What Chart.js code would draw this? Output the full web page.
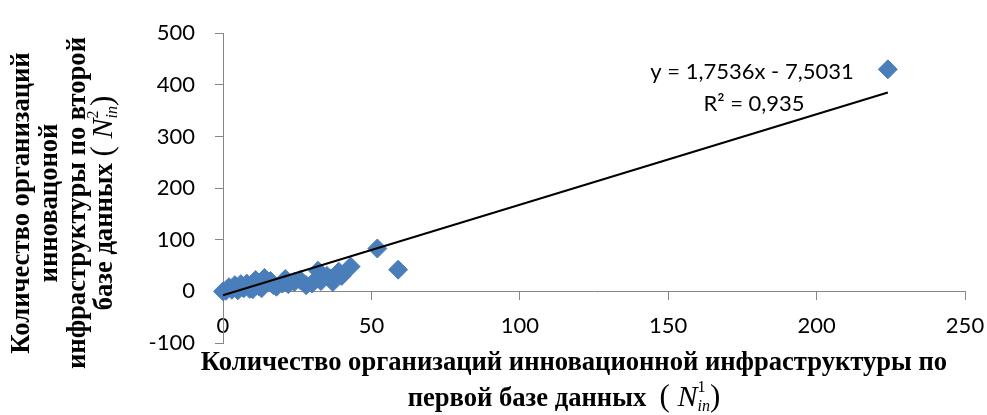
<!DOCTYPE html>
<html lang="ru">
<head>
<meta charset="utf-8">
<title>Количество организаций инновационной инфраструктуры</title>
<script src="https://cdn.jsdelivr.net/npm/chart.js@4/dist/chart.umd.min.js"></script>
<style>
    html, body { margin: 0; padding: 0; background: #ffffff; }
    #wrap { position: relative; width: 987px; height: 415px; }
</style>
</head>
<body>
<div id="wrap"><canvas id="chart"></canvas></div>
<script>
// values
const firstBase = [0, 1, 2, 3, 4, 5, 6, 7, 8, 9, 10, 11, 12, 13, 14, 15, 16, 17, 18, 20,
    21, 22, 24, 26, 28, 30, 32, 33, 35, 36, 37, 39, 40, 43, 52, 59, 224];
const secondBase = [0, 1, 8, 3, 12, 2, 14, 6, 15, 5, 4, 22, 10, 6, 26, 18, 20, 12, 9, 15,
    24, 14, 18, 22, 12, 15, 40, 20, 30, 25, 18, 38, 30, 48, 83, 42, 430];
const trendX = [0, 224];
const trendY = [-7.5, 385.3];
const xTicks = [0, 50, 100, 150, 200, 250];
const yTicks = [-100, 0, 100, 200, 300, 400, 500];
const equationLines = ["y = 1,7536x - 7,5031", "R² = 0,935"];

const AXIS_GREY = "#868686";
const MARKER_BLUE = "#4A7EBB";
const TICK_FONT = { family: "Lato", size: 22 };

const points = firstBase.map((x, i) => ({ x, y: secondBase[i] }));
const trend = trendX.map((x, i) => ({ x, y: trendY[i] }));

function runsWidth(ctx, runs) {
    let w = 0;
    let last = 0;
    for (const r of runs) {
        ctx.font = r.f;
        const rw = ctx.measureText(r.t).width;
        if (r.stack) {
            w += Math.max(0, rw - last);
            last = Math.max(last, rw);
        } else {
            w += rw;
            last = rw;
        }
    }
    return w;
}

// draws a line made of several font runs, centred on cx
function drawRuns(ctx, runs, cx, y) {
    let x = cx - runsWidth(ctx, runs) / 2;
    let start = x;
    let last = 0;
    for (const r of runs) {
        ctx.font = r.f;
        const rw = ctx.measureText(r.t).width;
        if (r.stack) {
            ctx.fillText(r.t, start, y + (r.dy || 0));
            x = start + Math.max(last, rw);
            last = Math.max(last, rw);
        } else {
            ctx.fillText(r.t, x, y + (r.dy || 0));
            start = x;
            x += rw;
            last = rw;
        }
    }
}

const BOLD = 'bold 26.6px "Liberation Serif"';
const PAREN = '31px "Liberation Serif"';
const N_FONT = 'italic 30px "Liberation Serif"';
const SUP = '16px "Liberation Serif"';
const SUB = 'italic 16px "Liberation Serif"';

function mathN(index) {
    return [
        { t: "( ", f: PAREN },
        { t: "N", f: N_FONT },
        { t: index, f: SUP, dy: -14 },
        { t: "in", f: SUB, dy: 5, stack: true },
        { t: ")", f: PAREN },
    ];
}

const titlesPlugin = {
    id: "axisTitles",
    afterDraw(chart) {
        const ctx = chart.ctx;
        ctx.save();
        ctx.fillStyle = "#000000";
        ctx.textAlign = "left";
        ctx.textBaseline = "alphabetic";

        // x axis title
        drawRuns(ctx, [{ t: "Количество организаций инновационной инфраструктуры по", f: BOLD }], 574, 370);
        drawRuns(ctx, [{ t: "первой базе данных  ", f: BOLD }, ...mathN("1")], 564, 406);

        // y axis title, rotated
        ctx.translate(0, 203);
        ctx.rotate(-Math.PI / 2);
        drawRuns(ctx, [{ t: "Количество организаций", f: BOLD }], 0, 29);
        drawRuns(ctx, [{ t: "инновацоной", f: BOLD }], 0, 57);
        drawRuns(ctx, [{ t: "инфраструктуры по второй", f: BOLD }], 0, 85);
        drawRuns(ctx, [{ t: "базе данных ", f: BOLD }, ...mathN("2")], 0, 112);
        ctx.restore();

        // trendline equation
        ctx.save();
        ctx.fillStyle = "#000000";
        ctx.textAlign = "center";
        ctx.font = '22px "Lato"';
        ctx.fillText(equationLines[0], 752, 79);
        ctx.fillText(equationLines[1], 754, 111);
        ctx.restore();
    },
};

new Chart(document.getElementById("chart"), {
    type: "scatter",
    data: {
        datasets: [
            {
                type: "line",
                data: trend,
                borderColor: "#000000",
                borderWidth: 2,
                pointRadius: 0,
                fill: false,
                order: 0,
                clip: false,
            },
            {
                data: points,
                pointStyle: "rectRot",
                pointRadius: 9.5,
                pointHoverRadius: 9.5,
                backgroundColor: MARKER_BLUE,
                borderColor: MARKER_BLUE,
                borderWidth: 1,
                order: 1,
                clip: false,
            },
        ],
    },
    options: {
        responsive: true,
        maintainAspectRatio: false,
        animation: false,
        events: [],
        layout: { padding: { top: 27, right: 22, bottom: 72, left: 0 } },
        plugins: {
            legend: { display: false },
            tooltip: { enabled: false },
        },
        scales: {
            x: {
                type: "linear",
                position: { y: 0 },
                min: xTicks[0],
                max: xTicks[xTicks.length - 1],
                afterBuildTicks: (scale) => {
                    scale.ticks = xTicks.map((value) => ({ value }));
                },
                grid: { drawOnChartArea: false, drawTicks: true, tickLength: 8, color: AXIS_GREY },
                border: { color: AXIS_GREY, width: 1 },
                ticks: { display: false },
                afterFit: (scale) => {
                    scale.height = 0;
                },
            },
            xLabels: {
                type: "linear",
                axis: "x",
                position: { y: 0 },
                min: xTicks[0],
                max: xTicks[xTicks.length - 1],
                afterBuildTicks: (scale) => {
                    scale.ticks = xTicks.map((value) => ({ value }));
                },
                grid: { display: false, drawTicks: true, tickLength: 21 },
                border: { display: false },
                ticks: { font: TICK_FONT, color: "#000000", padding: 0, maxRotation: 0 },
                afterFit: (scale) => {
                    scale.height = 0;
                },
            },
            y: {
                type: "linear",
                position: "left",
                min: yTicks[0],
                max: yTicks[yTicks.length - 1],
                afterBuildTicks: (scale) => {
                    scale.ticks = yTicks.map((value) => ({ value }));
                },
                grid: { drawOnChartArea: false, drawTicks: true, tickLength: 8, color: AXIS_GREY },
                border: { color: AXIS_GREY, width: 1 },
                ticks: { font: TICK_FONT, color: "#000000", padding: 20 },
                afterFit: (scale) => {
                    scale.width = 223;
                },
            },
        },
    },
    plugins: [titlesPlugin],
});
</script>
</body>
</html>
